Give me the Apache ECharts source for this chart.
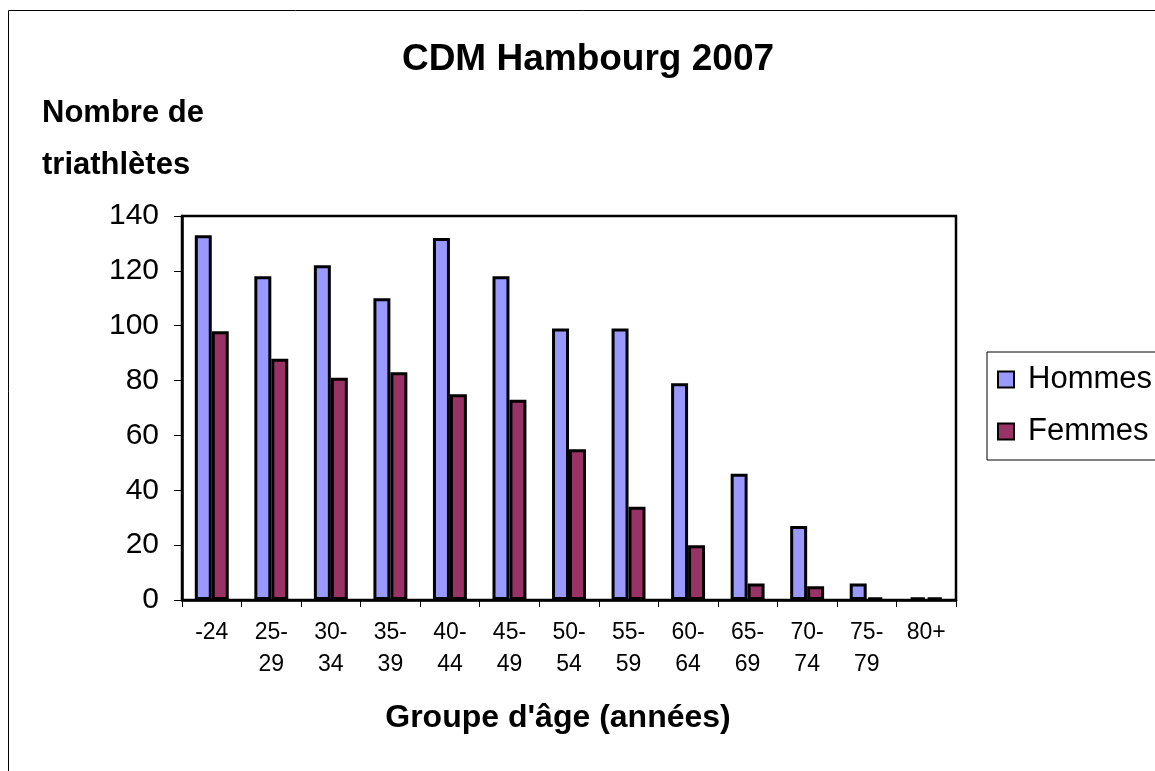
<!DOCTYPE html>
<html>
<head>
<meta charset="utf-8">
<script src="https://cdn.jsdelivr.net/npm/echarts@6/dist/echarts.min.js"></script>
<style>
  html, body { margin: 0; padding: 0; background: #fff; }
  #chart { width: 1155px; height: 771px; }
</style>
</head>
<body>
<div id="chart"></div>
<script>
// groupes d'âge
const categories = ["-24", "25-\n29", "30-\n34", "35-\n39", "40-\n44", "45-\n49", "50-\n54",
  "55-\n59", "60-\n64", "65-\n69", "70-\n74", "75-\n79", "80+"];
const hommes = [133, 118, 122, 110, 132, 118, 99, 99, 79, 46, 27, 6, 1];
const femmes = [98, 88, 81, 83, 75, 73, 55, 34, 20, 6, 5, 1, 1];
const yTicks = { min: 0, max: 140, interval: 20 };

const font = "'Liberation Sans', Arial, sans-serif";
const chart = echarts.init(document.getElementById("chart"));

const option = {
  backgroundColor: "#fff",
  animation: false,
  textStyle: { fontFamily: font, color: "#000" },
  title: {
    text: "CDM Hambourg 2007",
    left: 583,
    top: 36,
    textAlign: "center",
    textStyle: { fontFamily: font, fontSize: 37, fontWeight: "bold", color: "#000" }
  },
  grid: {
    left: 182, top: 216, width: 774, height: 384,
    show: true, borderColor: "#000", borderWidth: 2.5, backgroundColor: "transparent"
  },
  legend: {
    orient: "vertical",
    left: 987,
    top: 352,
    padding: [12, 60, 13, 10],
    borderColor: "#000",
    borderWidth: 1,
    itemWidth: 16,
    itemHeight: 16,
    itemGap: 21,
    icon: "rect",
    textStyle: { fontFamily: font, fontSize: 31, color: "#000", padding: [0, 0, 0, 9] },
    data: ["Hommes", "Femmes"]
  },
  xAxis: {
    type: "category",
    data: categories,
    axisLine: { lineStyle: { color: "#000", width: 2.5 } },
    axisTick: { show: true, length: 7, lineStyle: { color: "#000" } },
    axisLabel: { fontFamily: font, fontSize: 23, color: "#000", lineHeight: 32, margin: 17 }
  },
  yAxis: {
    type: "value",
    min: yTicks.min,
    max: yTicks.max,
    interval: yTicks.interval,
    axisLine: { show: true, lineStyle: { color: "#000", width: 2.5 } },
    axisTick: { show: true, length: 8, lineStyle: { color: "#000" } },
    splitLine: { show: false },
    axisLabel: { fontFamily: font, fontSize: 30, color: "#000", margin: 23 }
  },
  graphic: [
    {
      type: "rect",
      shape: { x: 8.5, y: 10.5, width: 1200, height: 800 },
      style: { fill: "none", stroke: "#000", lineWidth: 1 },
      silent: true
    },
    {
      type: "text", left: 42, top: 98,
      style: { text: "Nombre de", font: "bold 31px " + font, fill: "#000" }
    },
    {
      type: "text", left: 42, top: 150,
      style: { text: "triathlètes", font: "bold 31px " + font, fill: "#000" }
    },
    {
      type: "text", x: 558, y: 718,
      style: {
        text: "Groupe d'âge (années)", font: "bold 32px " + font, fill: "#000",
        textAlign: "center", textVerticalAlign: "middle"
      }
    }
  ],
  series: [
    {
      name: "Hommes",
      type: "bar",
      data: hommes,
      barGap: "0%",
      barCategoryGap: "43%",
      itemStyle: { color: "#9999FF", borderColor: "#000", borderWidth: 3 }
    },
    {
      name: "Femmes",
      type: "bar",
      data: femmes,
      itemStyle: { color: "#993366", borderColor: "#000", borderWidth: 3 }
    }
  ]
};

chart.setOption(option);
</script>
</body>
</html>
